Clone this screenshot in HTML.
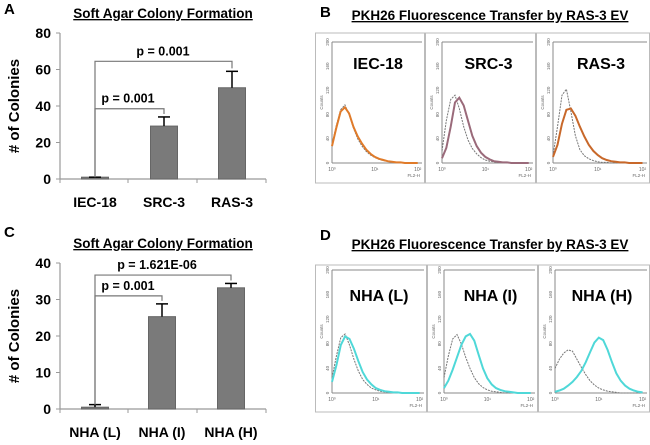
<!DOCTYPE html>
<html><head><meta charset="utf-8"><style>
body{margin:0;background:#fff;font-family:"Liberation Sans",sans-serif}
svg text{font-family:"Liberation Sans",sans-serif}
</style></head><body>
<svg id="fig" width="650" height="440" viewBox="0 0 650 440" xmlns="http://www.w3.org/2000/svg">
<g id="panelA"></g>
<g id="panelB"></g>
<g id="panelC"></g>
<g id="panelD"></g>
</svg>
<script>
// Panel A data
const catsA = ["IEC-18","SRC-3","RAS-3"];
const valsA = [1, 29, 50];
const errsA = [0, 5, 9];
const ticksA = [0,20,40,60,80];
// Panel C data
const catsC = ["NHA (L)","NHA (I)","NHA (H)"];
const valsC = [0.5, 25.3, 33.2];
const errsC = [0.7, 3.5, 1.2];
const ticksC = [0,10,20,30,40];
// Histogram bins (log10 FL2-H) and counts
const histBins = [0,0.1,0.2,0.3,0.4,0.5,0.6,0.7,0.8,0.9,1.0,1.1,1.2,1.3,1.4,1.5,1.6,1.7,1.8,1.9,2.0];
const iecGrey = [30,62,88,96,80,58,40,28,19,13,9,6,4,3,2,1,1,0,0,0,0];
const iecOrange = [28,58,85,92,82,60,44,32,22,15,10,7,5,3,2,1,1,0,0,0,0];
const srcGrey = [20,70,105,112,90,60,38,24,15,9,5,3,2,1,1,0,0,0,0,0,0];
const srcPink = [8,25,60,100,108,95,70,45,28,17,10,6,3,2,1,1,0,0,0,0,0];
const rasGrey = [12,60,112,122,85,45,22,12,7,4,2,1,1,0,0,0,0,0,0,0,0];
const rasOrange = [10,30,65,88,90,78,60,44,30,20,13,8,5,3,2,1,1,0,0,0,0];
const nhaLGrey = [25,60,90,96,78,55,36,22,14,8,5,3,2,1,1,0,0,0,0,0,0];
const nhaLCyan = [18,45,78,92,88,72,52,34,22,14,8,5,3,2,1,1,0,0,0,0,0];
const nhaIGrey = [25,60,88,95,80,58,40,25,15,9,5,3,2,1,0,0,0,0,0,0,0];
const nhaICyan = [8,20,38,58,78,92,96,85,62,40,24,14,8,5,3,2,1,0,0,0,0];
const nhaHGrey = [40,55,65,70,68,55,42,30,20,13,8,5,3,2,1,0,0,0,0,0,0];
const nhaHCyan = [2,4,7,12,18,26,36,50,66,82,90,86,70,50,32,20,12,7,4,2,1];

const NS="http://www.w3.org/2000/svg";
function mk(parent,tag,attrs,name,txt){
  const e=document.createElementNS(NS,tag);
  for(const k in attrs) e.setAttribute(k,attrs[k]);
  
  
  if(txt!==undefined) e.textContent=txt;
  parent.appendChild(e); return e;
}

function barChart(g, cfg){
  const {cats,vals,errs,ticks,y0,yTop,max,centers,label,ly,title,ty,brackets,labY} = cfg;
  const ys=v=>y0-(v/max)*(y0-yTop);
  mk(g,'text',{x:4,y:ly,'font-size':15,'font-weight':'bold'},'panel-label',label);
  const t=mk(g,'text',{x:163,y:ty,'font-size':13.5,'font-weight':'bold','text-anchor':'middle','text-decoration':'underline'},'chart-title',title);
  mk(g,'line',{x1:60,y1:yTop,x2:60,y2:y0,stroke:'#999','stroke-width':1.2},'y-axis');
  mk(g,'line',{x1:60,y1:y0,x2:266,y2:y0,stroke:'#999','stroke-width':1.2},'x-axis');
  ticks.forEach(tv=>{
    const y=ys(tv);
    mk(g,'line',{x1:56,y1:y,x2:60,y2:y,stroke:'#999'},'y-tick');
    mk(g,'text',{x:51,y:y+5,'font-size':14,'font-weight':'bold','text-anchor':'end'},'y-tick-label',String(tv));
  });
  [60,128,197,266].forEach(x=>mk(g,'line',{x1:x,y1:y0,x2:x,y2:y0+4,stroke:'#999'},'x-tick'));
  mk(g,'text',{x:0,y:0,'font-size':15,'font-weight':'bold','text-anchor':'middle',transform:`translate(19,${(y0+yTop)/2}) rotate(-90)`},'y-axis-title','# of Colonies');
  cats.forEach((c,i)=>{
    const cx=centers[i], w=27, top=ys(vals[i]);
    mk(g,'rect',{x:cx-w/2,y:top,width:w,height:y0-top,fill:'#7a7a7a',stroke:'#666'},'bar-'+c.toLowerCase().replace(/[^a-z0-9]+/g,'-'));
    const et=ys(vals[i]+errs[i]);
    mk(g,'line',{x1:cx,y1:top,x2:cx,y2:et,stroke:'#000','stroke-width':1.5},'error-bar');
    mk(g,'line',{x1:cx-6,y1:et,x2:cx+6,y2:et,stroke:'#000','stroke-width':1.5},'error-cap');
    mk(g,'text',{x:cx,y:labY,'font-size':14,'font-weight':'bold','text-anchor':'middle'},'x-tick-label',c);
  });
  brackets.forEach(b=>{
    const y=ys(b.level), x1=centers[0], x2=centers[b.to];
    const yl=ys(vals[0]+errs[0]), yr=ys(vals[b.to]+errs[b.to])-3;
    mk(g,'polyline',{points:`${x1},${yl} ${x1},${y} ${x2},${y} ${x2},${yr}`,fill:'none',stroke:'#777','stroke-width':1.2},'significance-bracket');
    mk(g,'text',{x:b.tx,y:y-6,'font-size':12.5,'font-weight':'bold','text-anchor':'middle'},'p-value-label',b.text);
  });
}

barChart(document.getElementById('panelA'),{cats:catsA,vals:valsA,errs:errsA,ticks:ticksA,y0:179,yTop:33,max:80,
  centers:[95,164,232],label:'A',ly:14,title:'Soft Agar Colony Formation',ty:18,labY:207,
  brackets:[{level:38.5,to:1,text:'p = 0.001',tx:128},{level:64.5,to:2,text:'p = 0.001',tx:163}]});
barChart(document.getElementById('panelC'),{cats:catsC,vals:valsC,errs:errsC,ticks:ticksC,y0:409,yTop:263,max:40,
  centers:[95,162,231],label:'C',ly:237,title:'Soft Agar Colony Formation',ty:248,labY:437,
  brackets:[{level:31,to:1,text:'p = 0.001',tx:128},{level:36.7,to:2,text:'p = 1.621E-06',tx:157}]});

function flowPanel(g, cfg){
  const {letter,ly,title,ty,boxTop,boxBot,boxes,pTop,pBot,labY,plots}=cfg;
  mk(g,'text',{x:320,y:ly,'font-size':15,'font-weight':'bold'},'panel-label',letter);
  mk(g,'text',{x:490,y:ty,'font-size':13.5,'font-weight':'bold','text-anchor':'middle','text-decoration':'underline'},'chart-title',title);
  plots.forEach((p,i)=>{
    const bx=boxes[i], bw=boxes[i+1]-bx;
    const pg=mk(g,'g',{},'histogram-'+p.name.toLowerCase().replace(/[^a-z0-9]+/g,'-'));
    mk(pg,'rect',{x:bx+0.5,y:boxTop,width:bw-1,height:boxBot-boxTop,fill:'#fff',stroke:'#bbb'},'plot-frame');
    const L=bx+17, R=bx+bw-3;
    const xs=v=>L+(v/2.1)*(R-L), ys=v=>pBot-(v/200)*(pBot-pTop);
    mk(pg,'line',{x1:L,y1:pTop,x2:R,y2:pTop,stroke:'#888'},'plot-top');
    mk(pg,'line',{x1:L,y1:pTop,x2:L,y2:pBot,stroke:'#888'},'y-axis');
    mk(pg,'line',{x1:L,y1:pBot,x2:R,y2:pBot,stroke:'#888'},'x-axis');
    [0,40,80,120,160,200].forEach(t=>{
      mk(pg,'text',{x:0,y:0,'font-size':4.5,fill:'#666','text-anchor':'middle',transform:`translate(${L-3},${ys(t)}) rotate(-90)`},'y-tick-label',String(t));
    });
    mk(pg,'text',{x:0,y:0,'font-size':4.5,fill:'#666','text-anchor':'middle',transform:`translate(${L-9},${ys(100)}) rotate(-90)`},'y-axis-title','Counts');
    [0,1,2].forEach(t=>mk(pg,'text',{x:xs(t),y:pBot+8,'font-size':5,fill:'#666','text-anchor':'middle'},'x-tick-label','10'+['⁰','¹','²'][t]));
    mk(pg,'text',{x:R-2,y:pBot+14,'font-size':4.5,fill:'#666','text-anchor':'end'},'x-axis-title','FL2-H');
    const path=arr=>histBins.map((b,j)=>`${j?'L':'M'}${xs(b).toFixed(1)},${ys(arr[j]).toFixed(1)}`).join(' ');
    mk(pg,'path',{d:path(p.grey),fill:'none',stroke:'#777','stroke-width':1,'stroke-dasharray':'2,1'},'control-histogram');
    mk(pg,'path',{d:path(p.col),fill:'none',stroke:p.color,'stroke-width':2},'transfer-histogram');
    mk(pg,'text',{x:bx+bw/2+8,y:labY,'font-size':16,'font-weight':'bold','text-anchor':'middle'},'sample-label',p.name);
  });
}
flowPanel(document.getElementById('panelB'),{letter:'B',ly:17,title:'PKH26 Fluorescence Transfer by RAS-3 EV',ty:20,
  boxTop:33,boxBot:183,boxes:[315,425,536,650],pTop:42,pBot:163,labY:69,
  plots:[{name:'IEC-18',grey:iecGrey,col:iecOrange,color:'#e07b2a'},
         {name:'SRC-3',grey:srcGrey,col:srcPink,color:'#9a6a7a'},
         {name:'RAS-3',grey:rasGrey,col:rasOrange,color:'#c8682a'}]});
flowPanel(document.getElementById('panelD'),{letter:'D',ly:240,title:'PKH26 Fluorescence Transfer by RAS-3 EV',ty:249,
  boxTop:265,boxBot:412,boxes:[315,427,538,650],pTop:270,pBot:393,labY:301,
  plots:[{name:'NHA (L)',grey:nhaLGrey,col:nhaLCyan,color:'#4fd8d8'},
         {name:'NHA (I)',grey:nhaIGrey,col:nhaICyan,color:'#4fd8d8'},
         {name:'NHA (H)',grey:nhaHGrey,col:nhaHCyan,color:'#4fd8d8'}]});
</script>
</body></html>
